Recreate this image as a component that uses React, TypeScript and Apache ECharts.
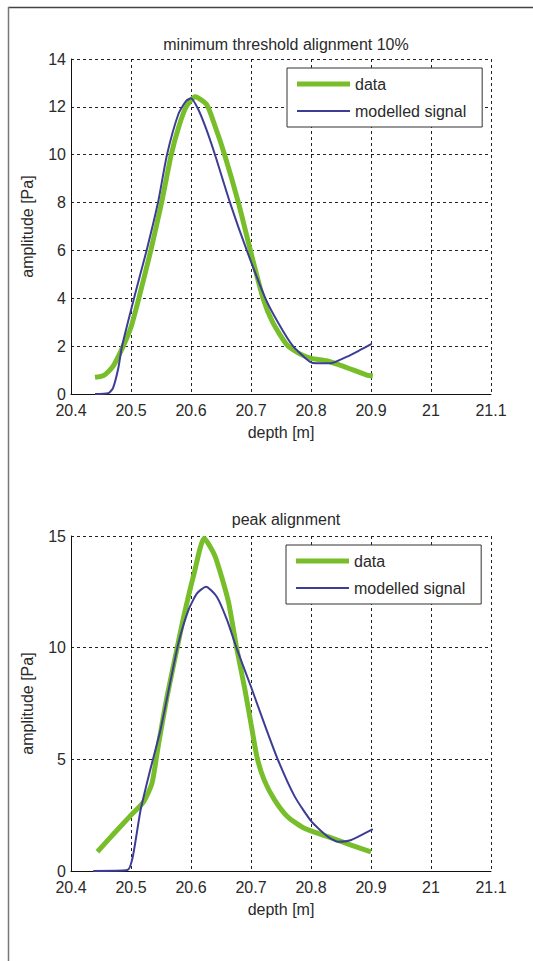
import React, { useEffect, useRef } from "react";
import * as echarts from "echarts";

const titles = ["minimum threshold alignment 10%", "peak alignment"];
const seriesNames = ["data", "modelled signal"];
const xTicks = { min: 20.4, max: 21.1, interval: 0.1 };
const yTicksTop = { min: 0, max: 14, interval: 2 };
const yTicksBottom = { min: 0, max: 15, interval: 5 };

const topData: number[][] = [
  [20.44, 0.7], [20.455, 0.78], [20.47, 1.15], [20.487, 2.0], [20.5, 2.8],
  [20.513, 4.0], [20.533, 6.0], [20.551, 8.0], [20.567, 10.0], [20.58, 11.2],
  [20.592, 12.0], [20.607, 12.42], [20.626, 12.1], [20.64, 11.2], [20.656, 10.0],
  [20.679, 8.0], [20.699, 6.0], [20.72, 4.0], [20.736, 3.0], [20.76, 2.05],
  [20.78, 1.7], [20.8, 1.49], [20.826, 1.39], [20.848, 1.21], [20.871, 1.0],
  [20.893, 0.79], [20.903, 0.75],
];
const topModel: number[][] = [
  [20.44, 0.0], [20.462, 0.03], [20.47, 0.25], [20.479, 1.1], [20.485, 2.0],
  [20.505, 4.0], [20.526, 6.0], [20.545, 8.0], [20.56, 10.0], [20.579, 11.7],
  [20.592, 12.25], [20.6, 12.36], [20.612, 11.9], [20.625, 11.1], [20.64, 10.0],
  [20.665, 8.0], [20.693, 6.0], [20.724, 4.0], [20.746, 2.95], [20.77, 2.0],
  [20.798, 1.35], [20.81, 1.28], [20.832, 1.28], [20.86, 1.56], [20.882, 1.84],
  [20.901, 2.09],
];
const bottomData: number[][] = [
  [20.444, 0.86], [20.472, 1.69], [20.5, 2.5], [20.521, 3.1], [20.535, 3.93],
  [20.546, 5.7], [20.56, 7.8], [20.577, 10.0], [20.588, 11.4], [20.605, 13.3],
  [20.622, 14.9], [20.64, 14.1], [20.662, 12.1], [20.676, 10.0], [20.69, 8.1],
  [20.7, 6.6], [20.71, 5.1], [20.722, 4.07], [20.739, 3.2], [20.761, 2.43],
  [20.789, 1.91], [20.828, 1.54], [20.867, 1.16], [20.9, 0.86],
];
const bottomModel: number[][] = [
  [20.437, 0], [20.494, 0.04], [20.503, 0.64], [20.516, 2.73], [20.532, 4.52],
  [20.549, 6.3], [20.565, 8.4], [20.579, 10.2], [20.596, 11.7], [20.61, 12.43],
  [20.625, 12.73], [20.643, 12.28], [20.66, 11.24], [20.677, 9.9], [20.7, 8.25],
  [20.722, 6.61], [20.745, 4.97], [20.773, 3.33], [20.801, 2.21], [20.828, 1.54],
  [20.845, 1.31], [20.867, 1.39], [20.903, 1.87],
];

const FONT = "'Liberation Sans', Arial, sans-serif";
const TEXT = "#2a2a2a";
const GREEN = "#78be2a";
const BLUE = "#3d3d97";

export default function App() {
  const ref = useRef<HTMLDivElement>(null);
  useEffect(() => {
    if (!ref.current) return;
    const chart = echarts.init(ref.current, undefined, { renderer: "svg" });
    const grids = [
      { left: 71, top: 59, width: 420, height: 335 },
      { left: 71, top: 536, width: 420, height: 335 },
    ];
    const yT = [yTicksTop, yTicksBottom];
    const mkX = (i: number) => ({
      type: "value",
      gridIndex: i,
      min: xTicks.min,
      max: xTicks.max,
      interval: xTicks.interval,
      name: "depth [m]",
      nameLocation: "middle",
      nameGap: 30,
      nameTextStyle: { fontFamily: FONT, fontSize: 16, color: TEXT },
      axisLine: { show: true, onZero: false, lineStyle: { color: "#111", width: 1 } },
      axisTick: { show: false },
      axisLabel: {
        fontFamily: FONT, fontSize: 16, color: TEXT, margin: 9, lineHeight: 14,
        formatter: (v: number) => String(+v.toFixed(1)),
      },
      splitLine: { show: true, lineStyle: { color: "#222", type: [3, 3], width: 1 } },
    });
    const mkY = (i: number) => ({
      type: "value",
      gridIndex: i,
      min: yT[i].min,
      max: yT[i].max,
      interval: yT[i].interval,
      name: "amplitude [Pa]",
      nameLocation: "middle",
      nameGap: 36,
      nameTextStyle: { fontFamily: FONT, fontSize: 16, color: TEXT },
      axisLine: { show: true, lineStyle: { color: "#111", width: 1 } },
      axisTick: { show: false },
      axisLabel: { fontFamily: FONT, fontSize: 16, color: TEXT, margin: 5, lineHeight: 13 },
      splitLine: { show: true, lineStyle: { color: "#222", type: [3, 3], width: 1 } },
    });
    const legendCommon = {
      orient: "vertical",
      backgroundColor: "#fff",
      borderColor: "#333",
      borderWidth: 1,
      padding: [8, 16, 8, 10],
      itemWidth: 53,
      itemHeight: 16,
      itemGap: 11,
      textStyle: { fontFamily: FONT, fontSize: 16, color: TEXT, lineHeight: 16 },
      data: [
        { name: seriesNames[0], icon: "path://M0,0H53V5H0Z" },
        { name: seriesNames[1], icon: "path://M0,0H53V2H0Z" },
      ],
    };
    const mkSeries = (i: number, d: number[][], m: number[][]) => [
      {
        type: "line", name: seriesNames[0], xAxisIndex: i, yAxisIndex: i,
        data: d, symbol: "none", smooth: 0.2,
        lineStyle: { color: GREEN, width: 5 }, itemStyle: { color: GREEN },
      },
      {
        type: "line", name: seriesNames[1], xAxisIndex: i, yAxisIndex: i,
        data: m, symbol: "none", smooth: 0.2,
        lineStyle: { color: BLUE, width: 2 }, itemStyle: { color: BLUE },
      },
    ];
    chart.setOption({
      animation: false,
      backgroundColor: "#fff",
      title: [
        { text: titles[0], left: 281, top: 31, textAlign: "center",
          textStyle: { fontFamily: FONT, fontSize: 16, fontWeight: "normal", color: TEXT } },
        { text: titles[1], left: 281, top: 506, textAlign: "center",
          textStyle: { fontFamily: FONT, fontSize: 16, fontWeight: "normal", color: TEXT } },
      ],
      legend: [
        { ...legendCommon, left: 287, top: 68 },
        { ...legendCommon, left: 286, top: 545 },
      ],
      grid: grids,
      xAxis: [mkX(0), mkX(1)],
      yAxis: [mkY(0), mkY(1)],
      series: [...mkSeries(0, topData, topModel), ...mkSeries(1, bottomData, bottomModel)],
      graphic: [
        { type: "line", shape: { x1: 8, y1: 7.5, x2: 533, y2: 7.5 }, style: { stroke: "#444", lineWidth: 1.5 } },
        { type: "line", shape: { x1: 8.5, y1: 7, x2: 8.5, y2: 961 }, style: { stroke: "#777", lineWidth: 1.5 } },
      ],
    });
    return () => chart.dispose();
  }, []);
  return (
    <div
      ref={ref}
      style={{ position: "absolute", left: 0, top: 0, width: 533, height: 961 }}
    />
  );
}
